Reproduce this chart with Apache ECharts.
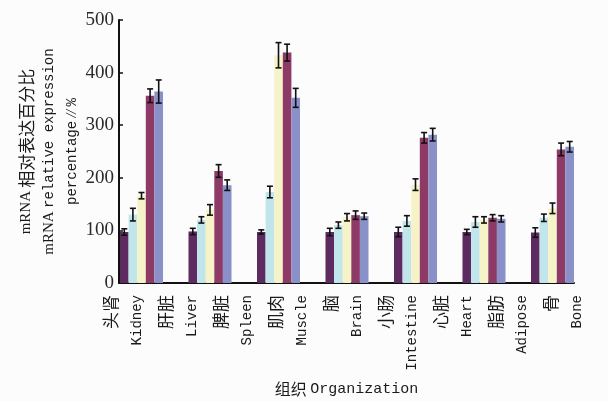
<!DOCTYPE html>
<html>
<head>
<meta charset="utf-8">
<script src="https://cdn.jsdelivr.net/npm/echarts@6/dist/echarts.min.js"></script>
<style>
  html, body { margin: 0; padding: 0; background: #fcfcfc; }
  #chart { width: 608px; height: 401px; }
</style>
</head>
<body>
<div id="chart"></div>
<script>
// Bar groups (one cluster of five bars per tissue sample)
const barGroups = ['G1', 'G2', 'G3', 'G4', 'G5', 'G6', 'G7'];

// Tissue labels written under the x axis: [Chinese, English]
const tissueLabels = [
  ['头肾', 'Kidney'], ['肝脏', 'Liver'], ['脾脏', 'Spleen'], ['肌肉', 'Muscle'],
  ['脑', 'Brain'], ['小肠', 'Intestine'], ['心脏', 'Heart'], ['脂肪', 'Adipose'], ['骨', 'Bone']
];

// Relative expression (%) of the five series, per group
const seriesNames = ['S1', 'S2', 'S3', 'S4', 'S5'];
const valuesS1 = [97, 98, 97, 97, 97, 97, 96];
const valuesS2 = [130, 120, 173, 110, 118, 116, 124];
const valuesS3 = [166, 139, 433, 125, 187, 120, 142];
const valuesS4 = [356, 213, 438, 129, 276, 124, 254];
const valuesS5 = [364, 186, 352, 127, 282, 122, 259];

// Error half-widths (%)
const errS1 = [6, 6, 4, 7, 9, 5, 9];
const errS2 = [12, 6, 11, 6, 10, 10, 7];
const errS3 = [6, 10, 24, 7, 11, 6, 10];
const errS4 = [13, 12, 16, 8, 10, 6, 12];
const errS5 = [22, 10, 18, 6, 12, 6, 10];

// Y axis ticks
const yMin = 0, yMax = 500, yStep = 100;

const colors = ['#5e2b60', '#c0e6eb', '#f6f3c8', '#8e3a67', '#8a90c8'];
const allValues = [valuesS1, valuesS2, valuesS3, valuesS4, valuesS5];
const allErrors = [errS1, errS2, errS3, errS4, errS5];

const categoryGap = 0.372;   // fraction of each band left empty
const latinFont = '"Liberation Mono", monospace';
const cjkFont = '"Noto Sans CJK SC", sans-serif';
const serifFont = '"Liberation Serif", serif';

const chart = echarts.init(document.getElementById('chart'), null, { renderer: 'canvas' });

const barSeries = allValues.map((vals, i) => ({
  name: seriesNames[i],
  type: 'bar',
  xAxisIndex: 0,
  yAxisIndex: 0,
  data: vals,
  barGap: 0,
  barCategoryGap: (categoryGap * 100) + '%',
  itemStyle: { color: colors[i] },
  silent: true,
  z: 2
}));

const errorSeries = allValues.map((vals, i) => ({
  name: seriesNames[i] + ' error',
  type: 'custom',
  xAxisIndex: 0,
  yAxisIndex: 0,
  data: vals.map((v, k) => [k, v - allErrors[i][k], v + allErrors[i][k]]),
  renderItem: function (params, api) {
    const band = api.size([1, 0])[0];
    const groupW = band * (1 - categoryGap);
    const bw = groupW / 5;
    const center = api.coord([api.value(0), 0])[0];
    const x = center - groupW / 2 + bw * (i + 0.5);
    const yLo = api.coord([api.value(0), api.value(1)])[1];
    const yHi = api.coord([api.value(0), api.value(2)])[1];
    const cap = 3;
    const style = { stroke: '#111', lineWidth: 1.6 };
    return {
      type: 'group',
      children: [
        { type: 'line', shape: { x1: x, y1: yLo, x2: x, y2: yHi }, style: style },
        { type: 'line', shape: { x1: x - cap, y1: yLo, x2: x + cap, y2: yLo }, style: style },
        { type: 'line', shape: { x1: x - cap, y1: yHi, x2: x + cap, y2: yHi }, style: style }
      ]
    };
  },
  silent: true,
  z: 5
}));

const gridBase = { top: 20, bottom: 118, outerBoundsMode: 'none', containLabel: false };

const option = {
  backgroundColor: '#fcfcfc',
  animation: false,
  grid: [
    // bars
    Object.assign({ left: 107.25, width: 479.5 }, gridBase),
    // visible axes
    Object.assign({ left: 119, width: 455 }, gridBase),
    // tissue label positions
    Object.assign({ left: 124, width: 440 }, gridBase)
  ],
  xAxis: [
    {
      gridIndex: 0, type: 'category', data: barGroups,
      axisLine: { show: false }, axisTick: { show: false }, axisLabel: { show: false }
    },
    {
      gridIndex: 1, type: 'category', data: barGroups,
      axisLine: { show: true, lineStyle: { color: '#111', width: 2 } },
      axisTick: { show: false }, axisLabel: { show: false },
      name: '{zh|组织} {en|Organization}',
      nameLocation: 'middle',
      nameGap: 98,
      nameMoveOverlap: false,
      nameTextStyle: {
        rich: {
          zh: { fontFamily: cjkFont, fontSize: 16, color: '#1a1a1a' },
          en: { fontFamily: latinFont, fontSize: 15, color: '#1a1a1a' }
        }
      }
    },
    {
      gridIndex: 2, type: 'category', boundaryGap: false,
      data: tissueLabels.map(t => t[0] + '|' + t[1]),
      axisLine: { show: false }, axisTick: { show: false },
      axisLabel: {
        rotate: 90,
        margin: 12,
        interval: 0,
        formatter: function (v) {
          const p = v.split('|');
          return '{zh|' + p[0] + '}\n{en|' + p[1] + '}';
        },
        rich: {
          zh: { fontFamily: cjkFont, fontSize: 17, lineHeight: 27, color: '#1a1a1a' },
          en: { fontFamily: latinFont, fontSize: 14, lineHeight: 27, color: '#1a1a1a' }
        }
      }
    }
  ],
  yAxis: [
    {
      gridIndex: 0, type: 'value', min: yMin, max: yMax, interval: yStep,
      axisLine: { show: false }, axisTick: { show: false }, axisLabel: { show: false },
      splitLine: { show: false }
    },
    {
      gridIndex: 1, type: 'value', min: yMin, max: yMax, interval: yStep,
      axisLine: { show: true, lineStyle: { color: '#111', width: 2 } },
      axisTick: { show: true, inside: true, length: 4, lineStyle: { color: '#111', width: 1.5 } },
      axisLabel: { fontFamily: serifFont, fontSize: 19, color: '#2a2a2a', margin: 5 },
      splitLine: { show: false },
      name: '{a|mRNA} {zh|相对表达百分比}\n{a|mRNA} {en|relative expression}\n{en|percentage} {it|//} {en|%}',
      nameLocation: 'middle',
      nameGap: 35,
      nameMoveOverlap: false,
      nameTextStyle: {
        align: 'center',
        rich: {
          a: { fontFamily: serifFont, fontSize: 15, lineHeight: 23, color: '#1a1a1a' },
          zh: { fontFamily: cjkFont, fontSize: 17, lineHeight: 23, color: '#1a1a1a' },
          en: { fontFamily: latinFont, fontSize: 14, lineHeight: 23, color: '#1a1a1a' },
          it: { fontFamily: serifFont, fontStyle: 'italic', fontSize: 14, lineHeight: 23, color: '#1a1a1a' }
        }
      }
    },
    {
      gridIndex: 2, type: 'value', min: yMin, max: yMax, interval: yStep, show: false
    }
  ],
  series: barSeries.concat(errorSeries)
};

chart.setOption(option);
</script>
</body>
</html>
